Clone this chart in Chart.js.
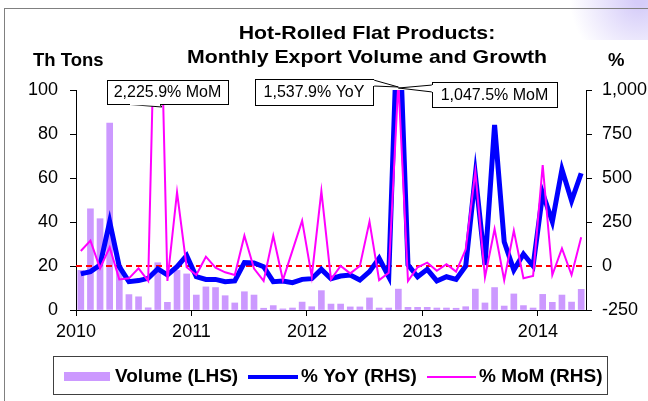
<!DOCTYPE html>
<html>
<head>
<meta charset="utf-8">
<script src="https://cdn.jsdelivr.net/npm/chart.js@4.4.1/dist/chart.umd.min.js"></script>
<style>
  body { margin: 0; background: #fff; }
  canvas { display: block; }
</style>
</head>
<body>
<canvas id="myChart" width="648" height="401"></canvas>
<script>
// monthly, Jan 2010 - May 2014
const years = ['2010', '2011', '2012', '2013', '2014'];
const volume = [18, 46, 41.5, 85, 20, 7, 6, 1, 21.5, 3.5, 18, 16.4,
  6.8, 10.5, 10.2, 6.5, 3.2, 8.3, 6.8, 0.8, 2, 0.5, 0.9, 3.6,
  1.5, 8.8, 2.7, 2.7, 1.4, 1.4, 5.5, 0.9, 0.9, 9.5, 1.2, 1.2,
  1.2, 0.9, 0.9, 0.8, 1.5, 9.5, 3.2, 10.2, 1.8, 7.3, 2, 0.9,
  7.1, 3.5, 6.8, 3.6, 9.4];
const yoy = [-45, -32, 6, 252, -4, -89, -83, -70, -17, -51, -4, 59,
  -61, -76, -76, -89, -85, 19, 17, -4, -89, -85, -95, -76,
  -72, -19, -72, -57, -51, -80, -32, 44, -61, 1537.9, 6, -61,
  -19, -85, -61, -76, 0, 517, 6, 801, 138, -23, 68, 0,
  413, 252, 549, 371, 527];
const mom = [85, 144, -13, 106, -76, -70, -13, -85, 2225.9, -85, 419, -7,
  -51, 53, -10, -36, -51, 172, -15, -85, 172, -80, 89, 258,
  -61, 426, -76, 0, -42, 0, 252, -80, -38, 1047.5, -85, -7,
  19, -27, 10, -32, 95, 536, -64, 210, -80, 201, -70, -57,
  574, -51, 100, -51, 163];
const zeroLine = [0, 0];
const calloutText = ['2,225.9% MoM', '1,537.9% YoY', '1,047.5% MoM'];
const calloutMonth = [8, 33, 33];

const font = "'Liberation Sans', Arial, sans-serif";
Chart.defaults.font.family = font;
Chart.defaults.color = '#000';

function pts(arr) {
  return arr.map((v, i) => ({ x: i + 0.5, y: v }));
}

function drawCallout(c, text, x, y, w, h, b1, b2, tip) {
  c.save();
  c.fillStyle = '#fff';
  c.strokeStyle = '#000';
  c.lineWidth = 1;
  c.beginPath();
  c.moveTo(b1[0], b1[1]); c.lineTo(tip[0], tip[1]); c.lineTo(b2[0], b2[1]);
  c.closePath();
  c.fill();
  c.beginPath();
  c.moveTo(b1[0], b1[1]); c.lineTo(tip[0], tip[1]); c.lineTo(b2[0], b2[1]);
  c.stroke();
  c.fillRect(x, y, w, h);
  c.strokeRect(x + 0.5, y + 0.5, w, h);
  // open the edge where the wedge joins
  c.strokeStyle = '#fff';
  c.lineWidth = 1.5;
  c.beginPath();
  c.moveTo(b1[0], b1[1]); c.lineTo(b2[0], b2[1]);
  c.stroke();
  c.fillStyle = '#000';
  c.font = '16px ' + font;
  c.textAlign = 'center';
  c.textBaseline = 'middle';
  c.fillText(text, x + w / 2, y + h / 2 + 1);
  c.restore();
}

const extras = {
  id: 'extras',
  beforeDraw(chart) {
    const c = chart.ctx;
    c.save();
    c.fillStyle = '#fff';
    c.fillRect(0, 0, chart.width, chart.height);
    const g = c.createRadialGradient(640, 0, 5, 640, 0, 70);
    g.addColorStop(0, 'rgba(185,170,245,0.6)');
    g.addColorStop(1, 'rgba(185,170,245,0)');
    c.fillStyle = g;
    c.fillRect(560, 0, 88, 40);
    c.strokeStyle = '#808080';
    c.lineWidth = 1;
    c.strokeRect(4.5, 8.5, 700, 500);
    c.restore();
  },
  afterDatasetsDraw(chart) {
    const c = chart.ctx;
    const xs = chart.scales.x;
    const top = chart.chartArea.top;
    const t0 = [xs.getPixelForValue(calloutMonth[0] + 0.5) + 4, top + 17];
    const t1 = [xs.getPixelForValue(calloutMonth[1] + 0.5), top - 3];
    const t2 = [xs.getPixelForValue(calloutMonth[2] + 0.5), top - 2];
    drawCallout(c, calloutText[0], 107, 80, 121, 24, [130, 104.5], [160, 104.5], t0);
    drawCallout(c, calloutText[1], 255, 79, 118, 26, [373.5, 80], [373.5, 86], t1);
    drawCallout(c, calloutText[2], 432, 82, 125, 25, [432.5, 85], [432.5, 92], t2);
  },
  afterDraw(chart) {
    const c = chart.ctx;
    c.save();
    c.fillStyle = '#000';
    c.textBaseline = 'alphabetic';
    c.font = 'bold 19px ' + font;
    c.textAlign = 'center';
    // title is a little wider than plain Arial in the original
    c.save();
    c.translate(367, 0);
    c.scale(1.12, 1);
    c.fillText('Hot-Rolled Flat Products:', 0, 39);
    c.fillText('Monthly Export Volume and Growth', 0, 62.5);
    c.restore();
    c.font = 'bold 18.5px ' + font;
    c.textAlign = 'left';
    c.fillText('Th Tons', 33, 66);
    c.fillText('%', 608, 66);

    // legend
    c.strokeStyle = '#404040';
    c.lineWidth = 1;
    c.strokeRect(53.5, 356.5, 554, 38);
    c.fillStyle = '#CC99FF';
    c.fillRect(64, 372, 46, 9);
    c.strokeStyle = '#0000FF';
    c.lineWidth = 4;
    c.beginPath(); c.moveTo(248, 377); c.lineTo(298, 377); c.stroke();
    c.strokeStyle = '#FF00FF';
    c.lineWidth = 2;
    c.beginPath(); c.moveTo(427, 377); c.lineTo(476, 377); c.stroke();
    c.fillStyle = '#000';
    c.font = 'bold 19px ' + font;
    c.textBaseline = 'middle';
    c.fillText('Volume (LHS)', 115, 377);
    c.fillText('% YoY (RHS)', 301, 377);
    c.fillText('% MoM (RHS)', 479, 377);
    c.restore();
  }
};

const ctx = document.getElementById('myChart');

new Chart(ctx, {
  type: 'bar',
  data: {
    datasets: [{
      type: 'line',
      label: '% MoM (RHS)',
      data: pts(mom),
      yAxisID: 'y2',
      borderColor: '#FF00FF',
      borderWidth: 2,
      pointRadius: 0,
      tension: 0,
      order: 0
    }, {
      type: 'line',
      label: '% YoY (RHS)',
      data: pts(yoy),
      yAxisID: 'y2',
      borderColor: '#0000FF',
      borderWidth: 5,
      pointRadius: 0,
      tension: 0,
      order: 1
    }, {
      type: 'line',
      label: 'zero',
      data: zeroLine.map((v, i) => ({ x: i * 53, y: v })),
      yAxisID: 'y2',
      borderColor: '#FF0000',
      borderWidth: 2,
      borderDash: [6, 4],
      pointRadius: 0,
      order: 2
    }, {
      type: 'bar',
      label: 'Volume (LHS)',
      data: pts(volume),
      yAxisID: 'y',
      backgroundColor: '#CC99FF',
      barThickness: 6,
      order: 3
    }]
  },
  options: {
    responsive: false,
    animation: false,
    events: [],
    layout: {
      padding: { top: 90, bottom: 51, left: 0, right: 0 }
    },
    plugins: {
      legend: { display: false },
      title: { display: false },
      tooltip: { enabled: false }
    },
    scales: {
      x: {
        type: 'linear',
        min: 0,
        max: 53,
        offset: false,
        grid: { offset: false, drawOnChartArea: false, tickLength: 6, tickColor: '#000' },
        border: { color: '#000' },
        afterBuildTicks: s => { s.ticks = years.map((y, i) => ({ value: i * 12 })); },
        afterFit: s => { s.height = 40; },
        ticks: {
          font: { size: 18 },
          padding: 5,
          maxRotation: 0,
          callback: v => years[v / 12]
        }
      },
      y: {
        position: 'left',
        min: 0,
        max: 100,
        grid: { drawOnChartArea: false, tickLength: 6, tickColor: '#000' },
        border: { color: '#000' },
        afterFit: s => { s.width = 76; },
        ticks: { stepSize: 20, font: { size: 18 }, padding: 12 }
      },
      y2: {
        position: 'right',
        min: -250,
        max: 1000,
        grid: { drawOnChartArea: false, tickLength: 6, tickColor: '#000' },
        border: { color: '#000' },
        afterFit: s => { s.width = 62; },
        ticks: {
          stepSize: 250,
          font: { size: 18 },
          padding: 10,
          callback: v => v.toLocaleString('en-US')
        }
      }
    }
  },
  plugins: [extras]
});
</script>
</body>
</html>
